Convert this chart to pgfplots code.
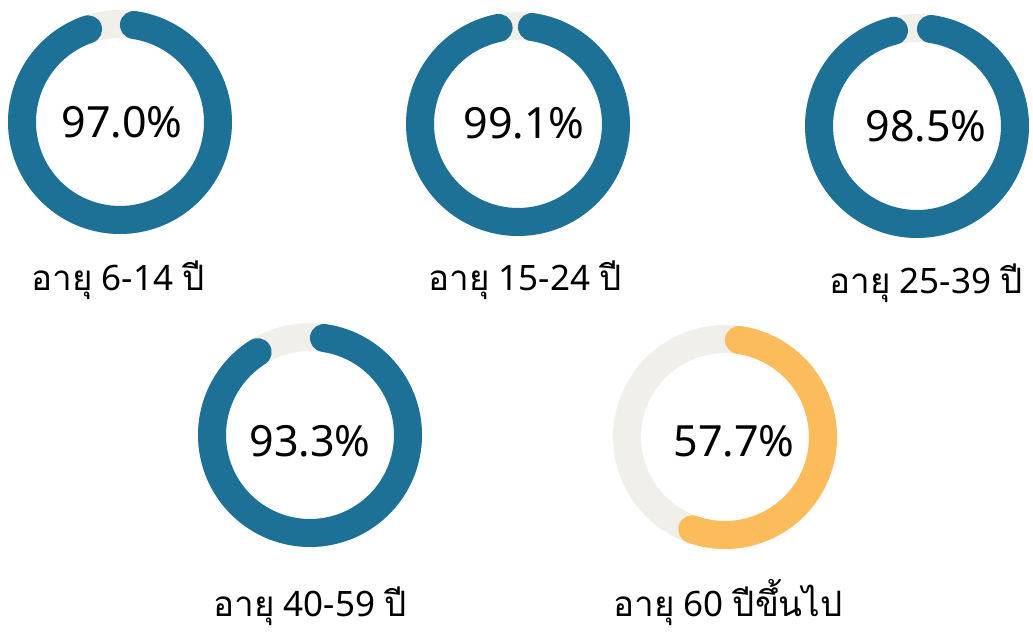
\documentclass[border=0pt]{standalone}
\usepackage{pgfplots}
\pgfplotsset{compat=1.18}
\usepackage{fontspec}
\setmainfont{Noto Sans}
\newfontfamily\thaifont[Script=Thai]{Loma}
\definecolor{ringblue}{HTML}{1D7196}
\definecolor{ringorange}{HTML}{FDBC5B}
\definecolor{track}{HTML}{F0EFEA}
% #1 cx, #2 cy, #3 value (percent), #4 colour
\newcommand{\donut}[4]{%
  \addplot[track, line width=28pt, domain=0:360, samples=181, smooth]
    ({#1+98*sin(x)}, {#2+98*cos(x)});
  \addplot[#4, line width=28pt, line cap=round, domain=8.19:3.6*#3-8.19, samples=160, smooth]
    ({#1+98*sin(x)}, {#2+98*cos(x)});
}
\newcommand{\pct}{\fontsize{43}{48}\selectfont}
\newcommand{\lab}{\fontsize{35}{40}\selectfont}
\begin{document}
\begin{tikzpicture}[x=1pt,y=1pt]
\begin{axis}[
  at={(0,0)}, anchor=origin,
  x=1pt, y=1pt, scale only axis,
  xmin=0, xmax=1033, ymin=0, ymax=633,
  hide axis, clip=false,
]
\donut{120}{511}{97.0}{ringblue}
\donut{518}{509}{99.1}{ringblue}
\donut{917}{507}{98.5}{ringblue}
\donut{310}{198}{93.3}{ringblue}
\donut{725}{196}{57.7}{ringorange}
\node[font=\pct] at (axis cs:122,511) {97.0\%};
\node[font=\pct] at (axis cs:524,510) {99.1\%};
\node[font=\pct] at (axis cs:926,507) {98.5\%};
\node[font=\pct] at (axis cs:310,192) {93.3\%};
\node[font=\pct] at (axis cs:734,192) {57.7\%};
\node[anchor=base, font=\lab] at (axis cs:118,343) {{\thaifont อายุ} 6-14 {\thaifont ปี}};
\node[anchor=base, font=\lab] at (axis cs:525,343) {{\thaifont อายุ} 15-24 {\thaifont ปี}};
\node[anchor=base, font=\lab] at (axis cs:926,340) {{\thaifont อายุ} 25-39 {\thaifont ปี}};
\node[anchor=base, font=\lab] at (axis cs:310,17) {{\thaifont อายุ} 40-59 {\thaifont ปี}};
\node[anchor=base, font=\lab] at (axis cs:728,17) {{\thaifont อายุ} 60 {\thaifont ปีขึ้นไป}};
\end{axis}
\pgfresetboundingbox
\path (0,0) rectangle (1033,633);
\end{tikzpicture}
\end{document}
